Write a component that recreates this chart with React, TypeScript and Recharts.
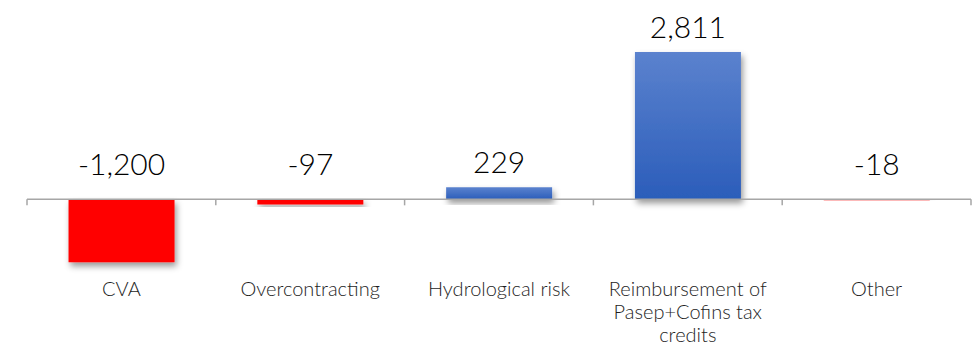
import React from "react";
import { BarChart, Bar, XAxis, YAxis, Cell, LabelList, ReferenceLine } from "recharts";

const categories = [
  "CVA",
  "Overcontracting",
  "Hydrological risk",
  "Reimbursement of\nPasep+Cofins tax\ncredits",
  "Other",
];
const values = [-1200, -97, 229, 2811, -18];

const data = categories.map((name, i) => ({ name, value: values[i] }));

const FONT = "Lato, 'Noto Sans', sans-serif";

const CatTick = (props: any) => {
  const { x, y, payload } = props;
  const lines = String(payload.value).split("\n");
  return (
    <text x={x} y={y} textAnchor="middle" fontSize={20} fontWeight={300} fill="#1E1E1E" fontFamily={FONT}>
      {lines.map((l, i) => (
        <tspan key={i} x={x} dy={i === 0 ? 18 : 23}>
          {l}
        </tspan>
      ))}
    </text>
  );
};

const AxisShape = (props: any) => {
  const { x1, y1, x2 } = props;
  const n = categories.length;
  const step = (x2 - x1) / n;
  const ticks = [];
  for (let i = 0; i <= n; i++) {
    const tx = x1 + step * i;
    ticks.push(<line key={i} x1={tx} x2={tx} y1={y1} y2={y1 + 6} stroke="#A6A6A6" strokeWidth={1.5} />);
  }
  return (
    <g>
      <line x1={x1} x2={x2} y1={y1} y2={y1} stroke="#A6A6A6" strokeWidth={1.5} />
      {ticks}
    </g>
  );
};

const ValueLabel = (props: any) => {
  const { x, y, width, height, value } = props;
  const top = Math.min(y, y + height);
  const lift = value >= 0 ? 14 : 24;
  return (
    <text
      x={x + width / 2}
      y={top - lift}
      textAnchor="middle"
      fontSize={30}
      fontWeight={300}
      fill="#000"
      fontFamily={FONT}
    >
      {Number(value).toLocaleString("en-US")}
    </text>
  );
};

export default function App() {
  return (
    <div style={{ position: "absolute", left: 0, top: 0, background: "#fff" }}>
      <BarChart
        width={979}
        height={345}
        data={data}
        margin={{ top: 42, right: 8, left: 27, bottom: 0 }}
        barCategoryGap="22%"
      >
        <defs>
          <linearGradient id="blueGrad" x1="0" y1="0" x2="0" y2="1">
            <stop offset="0%" stopColor="#5B82CE" />
            <stop offset="100%" stopColor="#2B5DBA" />
          </linearGradient>
          <filter id="shadow" x="-20%" y="-20%" width="150%" height="160%">
            <feDropShadow dx="2" dy="4" stdDeviation="3" floodColor="#000" floodOpacity="0.4" />
          </filter>
        </defs>
        <XAxis
          dataKey="name"
          height={67}
          axisLine={false}
          tickLine={false}
          tickSize={0}
          tickMargin={0}
          interval={0}
          tick={<CatTick />}
        />
        <YAxis hide domain={[-1500, 3000]} />
        <ReferenceLine y={0} shape={AxisShape} />
        <Bar dataKey="value" isAnimationActive={false}>
          {data.map((d, i) => (
            <Cell key={i} fill={d.value >= 0 ? "url(#blueGrad)" : "#FF0000"} filter="url(#shadow)" />
          ))}
          <LabelList dataKey="value" content={<ValueLabel />} />
        </Bar>
      </BarChart>
    </div>
  );
}
